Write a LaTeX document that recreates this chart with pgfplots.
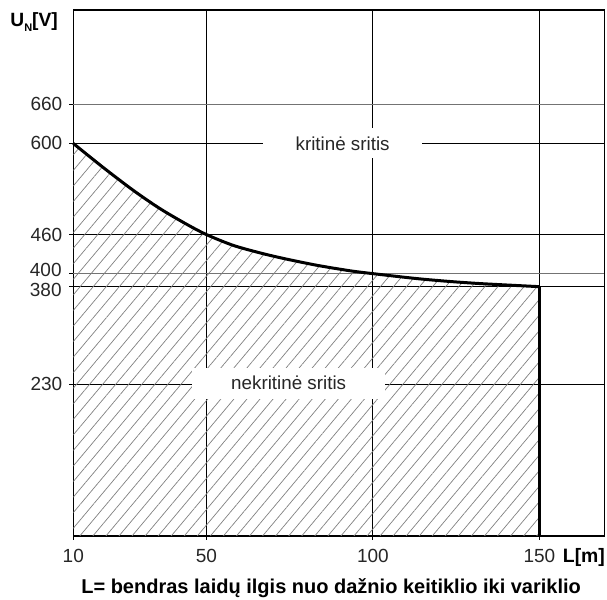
\documentclass[border=0pt]{standalone}
\usepackage{fontspec}
\setmainfont{Liberation Sans}
\usepackage{pgfplots}
\pgfplotsset{compat=1.18}
\usetikzlibrary{patterns.meta}
\begin{document}
\begin{tikzpicture}
\useasboundingbox (-36.65pt,-32pt) rectangle (266.85pt,268pt);
\begin{axis}[
  at={(0pt,0pt)}, anchor=south west,
  scale only axis, width=265.5pt, height=263pt,
  xmin=10, xmax=169.5, ymin=-3, ymax=805,
  xtick={10,50,100,150}, ytick={230,380,460,600},
  yticklabels={230,,460,600},
  extra y ticks={400,660},
  extra y tick labels={,660},
  extra y tick style={major grid style={black!55, line width=0.8pt}},
  grid=major, major grid style={black, line width=0.5pt},
  tick align=outside, major tick length=2pt, tick pos=left,
  tick style={black, line width=0.5pt},
  axis line style={line width=0.6pt},
  /pgf/number format/assume math mode=true,
  tick label style={font=\fontsize{9.5}{10}\selectfont, text=black!85},
  xticklabel style={yshift=-1pt},
  clip=false,
]
\addplot[draw=none, pattern={Lines[angle=50, distance=5pt, line width=0.35pt]}, pattern color=black!50]
  coordinates {(10,600) (19,563) (28,528) (36,500) (44,476) (50,460) (58,443.5) (66,432) (73,423.5) (83,413) (93,404.5) (100,400) (113,392.5) (123,388) (133,384.5) (150,380) (150,-3) (10,-3)} -- cycle;
\addplot[smooth, black, line width=1.5pt]
  coordinates {(10,600) (19,563) (28,528) (36,500) (44,476) (50,460) (58,443.5) (66,432) (73,423.5) (83,413) (93,404.5) (100,400) (113,392.5) (123,388) (133,384.5) (150,380)};
\addplot[black, line width=1.5pt] coordinates {(150,380) (150,-3)};
\node[fill=white, inner sep=0pt, minimum width=79.5pt, minimum height=15pt, font=\fontsize{9.4}{11}\selectfont, text=black!85] at (90.9,600) {kritinė sritis};
\node[fill=white, inner sep=0pt, minimum width=96.5pt, minimum height=15.5pt, font=\fontsize{9.4}{11}\selectfont, text=black!85] at (74.7,232) {nekritinė sritis};
\end{axis}
\node[anchor=east, inner sep=0pt, font=\fontsize{9.5}{10}\selectfont, text=black!85] at (-5.65pt,133pt) {400};
\node[anchor=east, inner sep=0pt, font=\fontsize{9.5}{10}\selectfont, text=black!85] at (-5.65pt,123pt) {380};
\node[anchor=base, font=\bfseries\fontsize{9.6}{11}\selectfont] at (-19.6pt,254.6pt) {U\raisebox{-0.45ex}{\fontsize{5.5}{6}\selectfont N}[V]};
\node[anchor=base west, inner sep=0pt, font=\bfseries\fontsize{9.7}{11}\selectfont] at (244.6pt,-13.5pt) {L[m]};
\node[anchor=base, inner sep=0pt, font=\bfseries\fontsize{10}{12}\selectfont] at (128.9pt,-29pt) {L= bendras laidų ilgis nuo dažnio keitiklio iki variklio};
\end{tikzpicture}
\end{document}
